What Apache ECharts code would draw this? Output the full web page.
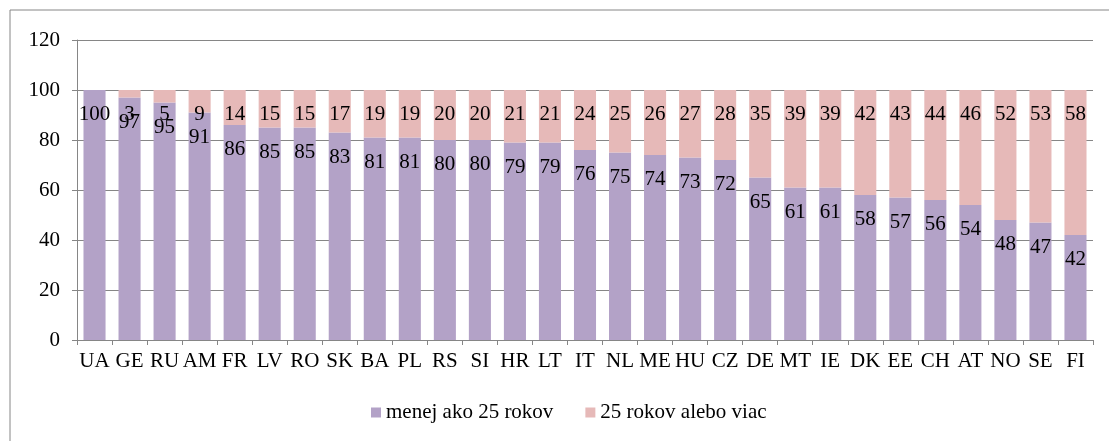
<!DOCTYPE html>
<html>
<head>
<meta charset="utf-8">
<script src="https://cdn.jsdelivr.net/npm/echarts@6/dist/echarts.min.js"></script>
<style>
  html, body { margin: 0; padding: 0; background: #fff; }
  #chart { width: 1109px; height: 441px; }
</style>
</head>
<body>
<div id="chart"></div>
<script>
var krajiny = ['UA', 'GE', 'RU', 'AM', 'FR', 'LV', 'RO', 'SK', 'BA', 'PL', 'RS', 'SI', 'HR', 'LT', 'IT',
    'NL', 'ME', 'HU', 'CZ', 'DE', 'MT', 'IE', 'DK', 'EE', 'CH', 'AT', 'NO', 'SE', 'FI'];
var mladsi = [100, 97, 95, 91, 86, 85, 85, 83, 81, 81, 80, 80, 79, 79, 76,
    75, 74, 73, 72, 65, 61, 61, 58, 57, 56, 54, 48, 47, 42];
var starsi = [0, 3, 5, 9, 14, 15, 15, 17, 19, 19, 20, 20, 21, 21, 24,
    25, 26, 27, 28, 35, 39, 39, 42, 43, 44, 46, 52, 53, 58];
var yTicks = [0, 20, 40, 60, 80, 100, 120];

var font = "'Liberation Serif'";
var graf = echarts.init(document.getElementById('chart'));

var label = {
    show: true,
    position: 'insideTop',
    distance: 14,
    color: '#000',
    fontFamily: font,
    fontSize: 21,
    formatter: function (p) { return p.value ? p.value : ''; }
};

graf.setOption({
    animation: false,
    textStyle: { fontFamily: font },
    graphic: [{
        type: 'rect',
        shape: { x: 10, y: 10, width: 1200, height: 500 },
        style: { fill: 'none', stroke: '#868686', lineWidth: 1 },
        silent: true
    }],
    grid: { left: 77, right: 16, top: 40, bottom: 101 },
    legend: {
        bottom: 13,
        left: 366,
        itemWidth: 10,
        itemHeight: 10,
        itemGap: 32,
        icon: 'rect',
        textStyle: { fontFamily: font, fontSize: 21, color: '#000' },
        data: ['menej ako 25 rokov', '25 rokov alebo viac']
    },
    xAxis: {
        type: 'category',
        data: krajiny,
        axisLine: { lineStyle: { color: '#868686', width: 1 } },
        axisTick: { show: true, length: 5, lineStyle: { color: '#868686' } },
        axisLabel: { color: '#000', fontFamily: font, fontSize: 21, margin: 11, interval: 0 }
    },
    yAxis: {
        type: 'value',
        min: yTicks[0],
        max: yTicks[yTicks.length - 1],
        interval: 20,
        axisLine: { show: true, lineStyle: { color: '#868686', width: 1 } },
        axisTick: { show: true, length: 5, lineStyle: { color: '#868686' } },
        axisLabel: { color: '#000', fontFamily: font, fontSize: 21, margin: 17 },
        splitLine: { lineStyle: { color: '#868686', width: 1 } }
    },
    series: [{
        name: 'menej ako 25 rokov',
        type: 'bar',
        stack: 'spolu',
        data: mladsi,
        barWidth: '63%',
        itemStyle: { color: '#B3A2C7' },
        label: label
    }, {
        name: '25 rokov alebo viac',
        type: 'bar',
        stack: 'spolu',
        data: starsi,
        barWidth: '63%',
        itemStyle: { color: '#E6B9B8' },
        label: label
    }]
});
</script>
</body>
</html>
